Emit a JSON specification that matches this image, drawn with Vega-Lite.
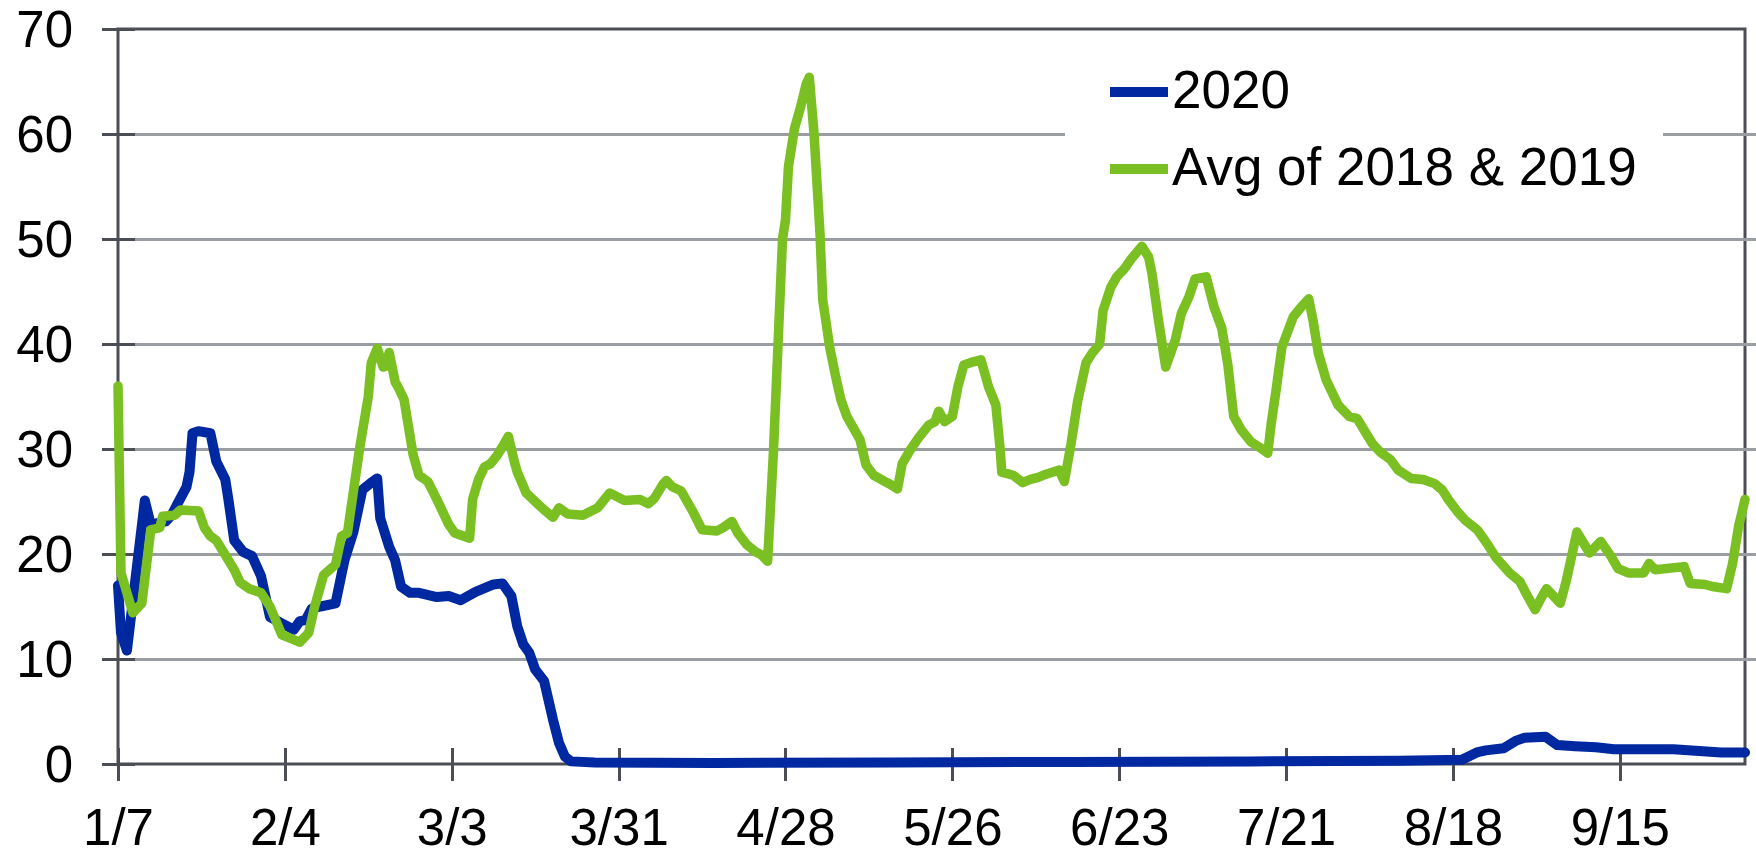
{
  "$schema": "https://vega.github.io/schema/vega-lite/v6.json",
  "width": 1627,
  "height": 735,
  "autosize": {"type": "none"},
  "padding": {"left": 118, "top": 29, "right": 11, "bottom": 86},
  "background": "white",
  "config": {
    "font": "Liberation Sans",
    "view": {"stroke": "#4b4f55", "strokeWidth": 3},
    "axis": {
      "domain": false,
      "labelFont": "Liberation Sans",
      "labelFontSize": 51,
      "labelColor": "black",
      "tickColor": "#4b4f55",
      "tickWidth": 3,
      "tickSize": 33,
      "offset": -16.5,
      "title": null,
      "labelFlush": false,
      "labelOverlap": false,
      "labelBound": false
    },
    "axisX": {"grid": false, "labelPadding": 24},
    "axisY": {"grid": true, "gridColor": "#9a9ea3", "gridWidth": 3, "labelPadding": 29, "labelOffset": 2}
  },
  "data": {
    "values": [
      {"date": "2020-01-07 00:00", "series": "2020", "value": 17},
      {"date": "2020-01-07 12:00", "series": "2020", "value": 12.5},
      {"date": "2020-01-08 12:00", "series": "2020", "value": 10.8},
      {"date": "2020-01-11 12:00", "series": "2020", "value": 25.1},
      {"date": "2020-01-12 12:00", "series": "2020", "value": 22.8},
      {"date": "2020-01-15 00:00", "series": "2020", "value": 23.1},
      {"date": "2020-01-16 00:00", "series": "2020", "value": 23.7},
      {"date": "2020-01-17 00:00", "series": "2020", "value": 24.8},
      {"date": "2020-01-18 12:00", "series": "2020", "value": 26.4},
      {"date": "2020-01-19 00:00", "series": "2020", "value": 27.8},
      {"date": "2020-01-19 12:00", "series": "2020", "value": 31.5},
      {"date": "2020-01-20 12:00", "series": "2020", "value": 31.7},
      {"date": "2020-01-22 12:00", "series": "2020", "value": 31.5},
      {"date": "2020-01-23 12:00", "series": "2020", "value": 28.8},
      {"date": "2020-01-25 00:00", "series": "2020", "value": 27.1},
      {"date": "2020-01-25 12:00", "series": "2020", "value": 25.3},
      {"date": "2020-01-26 12:00", "series": "2020", "value": 21.3},
      {"date": "2020-01-28 00:00", "series": "2020", "value": 20.2},
      {"date": "2020-01-29 12:00", "series": "2020", "value": 19.8},
      {"date": "2020-01-31 00:00", "series": "2020", "value": 17.9},
      {"date": "2020-02-01 12:00", "series": "2020", "value": 14.0},
      {"date": "2020-02-03 12:00", "series": "2020", "value": 13.4},
      {"date": "2020-02-05 12:00", "series": "2020", "value": 12.8},
      {"date": "2020-02-06 12:00", "series": "2020", "value": 13.6},
      {"date": "2020-02-07 12:00", "series": "2020", "value": 13.7},
      {"date": "2020-02-08 12:00", "series": "2020", "value": 14.8},
      {"date": "2020-02-10 00:00", "series": "2020", "value": 15.0},
      {"date": "2020-02-12 12:00", "series": "2020", "value": 15.3},
      {"date": "2020-02-14 00:00", "series": "2020", "value": 19.4},
      {"date": "2020-02-15 12:00", "series": "2020", "value": 22.1},
      {"date": "2020-02-17 00:00", "series": "2020", "value": 26.1},
      {"date": "2020-02-18 12:00", "series": "2020", "value": 26.8},
      {"date": "2020-02-19 12:00", "series": "2020", "value": 27.2},
      {"date": "2020-02-20 00:00", "series": "2020", "value": 23.4},
      {"date": "2020-02-21 12:00", "series": "2020", "value": 20.7},
      {"date": "2020-02-22 12:00", "series": "2020", "value": 19.4},
      {"date": "2020-02-23 12:00", "series": "2020", "value": 16.9},
      {"date": "2020-02-25 00:00", "series": "2020", "value": 16.3},
      {"date": "2020-02-26 12:00", "series": "2020", "value": 16.3},
      {"date": "2020-02-29 12:00", "series": "2020", "value": 15.9},
      {"date": "2020-03-02 12:00", "series": "2020", "value": 16.0},
      {"date": "2020-03-04 12:00", "series": "2020", "value": 15.6},
      {"date": "2020-03-07 00:00", "series": "2020", "value": 16.4},
      {"date": "2020-03-10 00:00", "series": "2020", "value": 17.1},
      {"date": "2020-03-11 12:00", "series": "2020", "value": 17.2},
      {"date": "2020-03-13 00:00", "series": "2020", "value": 16.0},
      {"date": "2020-03-14 00:00", "series": "2020", "value": 13.1},
      {"date": "2020-03-15 00:00", "series": "2020", "value": 11.4},
      {"date": "2020-03-16 00:00", "series": "2020", "value": 10.6},
      {"date": "2020-03-17 00:00", "series": "2020", "value": 9.0},
      {"date": "2020-03-18 12:00", "series": "2020", "value": 7.9},
      {"date": "2020-03-20 00:00", "series": "2020", "value": 4.2},
      {"date": "2020-03-21 00:00", "series": "2020", "value": 2.0},
      {"date": "2020-03-22 00:00", "series": "2020", "value": 0.7},
      {"date": "2020-03-23 00:00", "series": "2020", "value": 0.25},
      {"date": "2020-03-27 00:00", "series": "2020", "value": 0.15},
      {"date": "2020-04-16 00:00", "series": "2020", "value": 0.1},
      {"date": "2020-05-16 00:00", "series": "2020", "value": 0.15},
      {"date": "2020-06-15 00:00", "series": "2020", "value": 0.2},
      {"date": "2020-07-15 00:00", "series": "2020", "value": 0.25},
      {"date": "2020-08-09 00:00", "series": "2020", "value": 0.3},
      {"date": "2020-08-19 12:00", "series": "2020", "value": 0.4},
      {"date": "2020-08-22 00:00", "series": "2020", "value": 1.1},
      {"date": "2020-08-23 12:00", "series": "2020", "value": 1.3},
      {"date": "2020-08-26 12:00", "series": "2020", "value": 1.5},
      {"date": "2020-08-28 12:00", "series": "2020", "value": 2.2},
      {"date": "2020-08-30 00:00", "series": "2020", "value": 2.5},
      {"date": "2020-09-02 12:00", "series": "2020", "value": 2.6},
      {"date": "2020-09-04 12:00", "series": "2020", "value": 1.8},
      {"date": "2020-09-07 12:00", "series": "2020", "value": 1.7},
      {"date": "2020-09-11 00:00", "series": "2020", "value": 1.6},
      {"date": "2020-09-14 00:00", "series": "2020", "value": 1.4},
      {"date": "2020-09-20 00:00", "series": "2020", "value": 1.4},
      {"date": "2020-09-24 00:00", "series": "2020", "value": 1.4},
      {"date": "2020-10-02 00:00", "series": "2020", "value": 1.1},
      {"date": "2020-10-06 00:00", "series": "2020", "value": 1.1},

      {"date": "2020-01-07 00:00", "series": "Avg of 2018 & 2019", "value": 36},
      {"date": "2020-01-07 12:00", "series": "Avg of 2018 & 2019", "value": 18.2},
      {"date": "2020-01-09 12:00", "series": "Avg of 2018 & 2019", "value": 14.4},
      {"date": "2020-01-11 00:00", "series": "Avg of 2018 & 2019", "value": 15.3},
      {"date": "2020-01-12 12:00", "series": "Avg of 2018 & 2019", "value": 22.3},
      {"date": "2020-01-14 00:00", "series": "Avg of 2018 & 2019", "value": 22.5},
      {"date": "2020-01-14 12:00", "series": "Avg of 2018 & 2019", "value": 23.6},
      {"date": "2020-01-16 12:00", "series": "Avg of 2018 & 2019", "value": 23.7},
      {"date": "2020-01-17 12:00", "series": "Avg of 2018 & 2019", "value": 24.2},
      {"date": "2020-01-20 12:00", "series": "Avg of 2018 & 2019", "value": 24.1},
      {"date": "2020-01-21 12:00", "series": "Avg of 2018 & 2019", "value": 22.5},
      {"date": "2020-01-22 12:00", "series": "Avg of 2018 & 2019", "value": 21.7},
      {"date": "2020-01-23 12:00", "series": "Avg of 2018 & 2019", "value": 21.3},
      {"date": "2020-01-25 00:00", "series": "Avg of 2018 & 2019", "value": 19.9},
      {"date": "2020-01-26 12:00", "series": "Avg of 2018 & 2019", "value": 18.5},
      {"date": "2020-01-27 12:00", "series": "Avg of 2018 & 2019", "value": 17.3},
      {"date": "2020-01-29 00:00", "series": "Avg of 2018 & 2019", "value": 16.7},
      {"date": "2020-01-31 00:00", "series": "Avg of 2018 & 2019", "value": 16.3},
      {"date": "2020-02-01 12:00", "series": "Avg of 2018 & 2019", "value": 15.0},
      {"date": "2020-02-03 12:00", "series": "Avg of 2018 & 2019", "value": 12.3},
      {"date": "2020-02-06 12:00", "series": "Avg of 2018 & 2019", "value": 11.6},
      {"date": "2020-02-08 00:00", "series": "Avg of 2018 & 2019", "value": 12.5},
      {"date": "2020-02-09 00:00", "series": "Avg of 2018 & 2019", "value": 15.0},
      {"date": "2020-02-10 12:00", "series": "Avg of 2018 & 2019", "value": 18.0},
      {"date": "2020-02-11 12:00", "series": "Avg of 2018 & 2019", "value": 18.5},
      {"date": "2020-02-12 12:00", "series": "Avg of 2018 & 2019", "value": 19.0},
      {"date": "2020-02-13 12:00", "series": "Avg of 2018 & 2019", "value": 21.7},
      {"date": "2020-02-14 12:00", "series": "Avg of 2018 & 2019", "value": 22.0},
      {"date": "2020-02-16 12:00", "series": "Avg of 2018 & 2019", "value": 29.9},
      {"date": "2020-02-18 00:00", "series": "Avg of 2018 & 2019", "value": 35.0},
      {"date": "2020-02-18 12:00", "series": "Avg of 2018 & 2019", "value": 38.2},
      {"date": "2020-02-19 12:00", "series": "Avg of 2018 & 2019", "value": 39.6},
      {"date": "2020-02-20 12:00", "series": "Avg of 2018 & 2019", "value": 37.8},
      {"date": "2020-02-21 00:00", "series": "Avg of 2018 & 2019", "value": 37.9},
      {"date": "2020-02-21 12:00", "series": "Avg of 2018 & 2019", "value": 39.2},
      {"date": "2020-02-22 12:00", "series": "Avg of 2018 & 2019", "value": 36.4},
      {"date": "2020-02-23 00:00", "series": "Avg of 2018 & 2019", "value": 35.9},
      {"date": "2020-02-24 00:00", "series": "Avg of 2018 & 2019", "value": 34.7},
      {"date": "2020-02-25 12:00", "series": "Avg of 2018 & 2019", "value": 29.5},
      {"date": "2020-02-26 12:00", "series": "Avg of 2018 & 2019", "value": 27.5},
      {"date": "2020-02-28 00:00", "series": "Avg of 2018 & 2019", "value": 26.9},
      {"date": "2020-02-29 12:00", "series": "Avg of 2018 & 2019", "value": 25.2},
      {"date": "2020-03-02 12:00", "series": "Avg of 2018 & 2019", "value": 22.8},
      {"date": "2020-03-03 12:00", "series": "Avg of 2018 & 2019", "value": 22.0},
      {"date": "2020-03-06 00:00", "series": "Avg of 2018 & 2019", "value": 21.5},
      {"date": "2020-03-06 12:00", "series": "Avg of 2018 & 2019", "value": 25.2},
      {"date": "2020-03-07 12:00", "series": "Avg of 2018 & 2019", "value": 27.1},
      {"date": "2020-03-08 12:00", "series": "Avg of 2018 & 2019", "value": 28.3},
      {"date": "2020-03-09 12:00", "series": "Avg of 2018 & 2019", "value": 28.6},
      {"date": "2020-03-10 12:00", "series": "Avg of 2018 & 2019", "value": 29.3},
      {"date": "2020-03-11 12:00", "series": "Avg of 2018 & 2019", "value": 30.2},
      {"date": "2020-03-12 12:00", "series": "Avg of 2018 & 2019", "value": 31.2},
      {"date": "2020-03-13 12:00", "series": "Avg of 2018 & 2019", "value": 28.8},
      {"date": "2020-03-14 00:00", "series": "Avg of 2018 & 2019", "value": 27.8},
      {"date": "2020-03-15 12:00", "series": "Avg of 2018 & 2019", "value": 25.8},
      {"date": "2020-03-17 00:00", "series": "Avg of 2018 & 2019", "value": 25.0},
      {"date": "2020-03-18 12:00", "series": "Avg of 2018 & 2019", "value": 24.2},
      {"date": "2020-03-20 00:00", "series": "Avg of 2018 & 2019", "value": 23.5},
      {"date": "2020-03-21 00:00", "series": "Avg of 2018 & 2019", "value": 24.4},
      {"date": "2020-03-22 12:00", "series": "Avg of 2018 & 2019", "value": 23.8},
      {"date": "2020-03-25 00:00", "series": "Avg of 2018 & 2019", "value": 23.7},
      {"date": "2020-03-27 12:00", "series": "Avg of 2018 & 2019", "value": 24.4},
      {"date": "2020-03-29 12:00", "series": "Avg of 2018 & 2019", "value": 25.8},
      {"date": "2020-04-01 00:00", "series": "Avg of 2018 & 2019", "value": 25.1},
      {"date": "2020-04-03 12:00", "series": "Avg of 2018 & 2019", "value": 25.2},
      {"date": "2020-04-05 00:00", "series": "Avg of 2018 & 2019", "value": 24.8},
      {"date": "2020-04-06 00:00", "series": "Avg of 2018 & 2019", "value": 25.3},
      {"date": "2020-04-07 12:00", "series": "Avg of 2018 & 2019", "value": 26.7},
      {"date": "2020-04-08 00:00", "series": "Avg of 2018 & 2019", "value": 27.0},
      {"date": "2020-04-09 00:00", "series": "Avg of 2018 & 2019", "value": 26.4},
      {"date": "2020-04-10 12:00", "series": "Avg of 2018 & 2019", "value": 26.0},
      {"date": "2020-04-12 12:00", "series": "Avg of 2018 & 2019", "value": 24.0},
      {"date": "2020-04-14 00:00", "series": "Avg of 2018 & 2019", "value": 22.3},
      {"date": "2020-04-16 12:00", "series": "Avg of 2018 & 2019", "value": 22.2},
      {"date": "2020-04-17 12:00", "series": "Avg of 2018 & 2019", "value": 22.5},
      {"date": "2020-04-19 00:00", "series": "Avg of 2018 & 2019", "value": 23.1},
      {"date": "2020-04-20 00:00", "series": "Avg of 2018 & 2019", "value": 22.0},
      {"date": "2020-04-21 12:00", "series": "Avg of 2018 & 2019", "value": 20.9},
      {"date": "2020-04-23 00:00", "series": "Avg of 2018 & 2019", "value": 20.2},
      {"date": "2020-04-24 00:00", "series": "Avg of 2018 & 2019", "value": 19.9},
      {"date": "2020-04-25 00:00", "series": "Avg of 2018 & 2019", "value": 19.3},
      {"date": "2020-04-26 00:00", "series": "Avg of 2018 & 2019", "value": 30.0},
      {"date": "2020-04-27 12:00", "series": "Avg of 2018 & 2019", "value": 50.0},
      {"date": "2020-04-28 00:00", "series": "Avg of 2018 & 2019", "value": 51.8},
      {"date": "2020-04-28 12:00", "series": "Avg of 2018 & 2019", "value": 56.9},
      {"date": "2020-04-29 12:00", "series": "Avg of 2018 & 2019", "value": 60.5},
      {"date": "2020-04-30 12:00", "series": "Avg of 2018 & 2019", "value": 62.5},
      {"date": "2020-05-01 12:00", "series": "Avg of 2018 & 2019", "value": 64.8},
      {"date": "2020-05-02 00:00", "series": "Avg of 2018 & 2019", "value": 65.4},
      {"date": "2020-05-02 19:00", "series": "Avg of 2018 & 2019", "value": 60.0},
      {"date": "2020-05-03 19:00", "series": "Avg of 2018 & 2019", "value": 50.5},
      {"date": "2020-05-04 06:00", "series": "Avg of 2018 & 2019", "value": 44.2},
      {"date": "2020-05-05 10:00", "series": "Avg of 2018 & 2019", "value": 39.7},
      {"date": "2020-05-06 10:00", "series": "Avg of 2018 & 2019", "value": 36.9},
      {"date": "2020-05-07 07:00", "series": "Avg of 2018 & 2019", "value": 34.7},
      {"date": "2020-05-08 07:00", "series": "Avg of 2018 & 2019", "value": 33.1},
      {"date": "2020-05-09 07:00", "series": "Avg of 2018 & 2019", "value": 32.1},
      {"date": "2020-05-10 12:00", "series": "Avg of 2018 & 2019", "value": 30.9},
      {"date": "2020-05-11 12:00", "series": "Avg of 2018 & 2019", "value": 28.5},
      {"date": "2020-05-12 19:00", "series": "Avg of 2018 & 2019", "value": 27.5},
      {"date": "2020-05-14 17:00", "series": "Avg of 2018 & 2019", "value": 26.9},
      {"date": "2020-05-15 17:00", "series": "Avg of 2018 & 2019", "value": 26.6},
      {"date": "2020-05-16 19:00", "series": "Avg of 2018 & 2019", "value": 26.2},
      {"date": "2020-05-17 14:00", "series": "Avg of 2018 & 2019", "value": 28.6},
      {"date": "2020-05-18 22:00", "series": "Avg of 2018 & 2019", "value": 29.9},
      {"date": "2020-05-20 12:00", "series": "Avg of 2018 & 2019", "value": 31.2},
      {"date": "2020-05-22 02:00", "series": "Avg of 2018 & 2019", "value": 32.3},
      {"date": "2020-05-23 02:00", "series": "Avg of 2018 & 2019", "value": 32.6},
      {"date": "2020-05-23 17:00", "series": "Avg of 2018 & 2019", "value": 33.6},
      {"date": "2020-05-24 17:00", "series": "Avg of 2018 & 2019", "value": 32.6},
      {"date": "2020-05-26 00:00", "series": "Avg of 2018 & 2019", "value": 33.1},
      {"date": "2020-05-26 22:00", "series": "Avg of 2018 & 2019", "value": 35.9},
      {"date": "2020-05-27 22:00", "series": "Avg of 2018 & 2019", "value": 38.0},
      {"date": "2020-05-29 12:00", "series": "Avg of 2018 & 2019", "value": 38.3},
      {"date": "2020-05-30 19:00", "series": "Avg of 2018 & 2019", "value": 38.5},
      {"date": "2020-06-01 02:00", "series": "Avg of 2018 & 2019", "value": 35.9},
      {"date": "2020-06-02 07:00", "series": "Avg of 2018 & 2019", "value": 34.2},
      {"date": "2020-06-03 00:00", "series": "Avg of 2018 & 2019", "value": 30.1},
      {"date": "2020-06-03 07:00", "series": "Avg of 2018 & 2019", "value": 27.8},
      {"date": "2020-06-05 05:00", "series": "Avg of 2018 & 2019", "value": 27.5},
      {"date": "2020-06-06 19:00", "series": "Avg of 2018 & 2019", "value": 26.8},
      {"date": "2020-06-08 02:00", "series": "Avg of 2018 & 2019", "value": 27.1},
      {"date": "2020-06-09 10:00", "series": "Avg of 2018 & 2019", "value": 27.3},
      {"date": "2020-06-10 17:00", "series": "Avg of 2018 & 2019", "value": 27.6},
      {"date": "2020-06-12 22:00", "series": "Avg of 2018 & 2019", "value": 28.0},
      {"date": "2020-06-13 19:00", "series": "Avg of 2018 & 2019", "value": 26.9},
      {"date": "2020-06-14 22:00", "series": "Avg of 2018 & 2019", "value": 30.5},
      {"date": "2020-06-16 00:00", "series": "Avg of 2018 & 2019", "value": 34.5},
      {"date": "2020-06-17 10:00", "series": "Avg of 2018 & 2019", "value": 38.2},
      {"date": "2020-06-18 10:00", "series": "Avg of 2018 & 2019", "value": 39.1},
      {"date": "2020-06-19 17:00", "series": "Avg of 2018 & 2019", "value": 40.0},
      {"date": "2020-06-20 07:00", "series": "Avg of 2018 & 2019", "value": 43.2},
      {"date": "2020-06-21 14:00", "series": "Avg of 2018 & 2019", "value": 45.4},
      {"date": "2020-06-22 14:00", "series": "Avg of 2018 & 2019", "value": 46.4},
      {"date": "2020-06-23 22:00", "series": "Avg of 2018 & 2019", "value": 47.2},
      {"date": "2020-06-25 00:00", "series": "Avg of 2018 & 2019", "value": 48.1},
      {"date": "2020-06-26 19:00", "series": "Avg of 2018 & 2019", "value": 49.3},
      {"date": "2020-06-27 22:00", "series": "Avg of 2018 & 2019", "value": 48.3},
      {"date": "2020-06-28 12:00", "series": "Avg of 2018 & 2019", "value": 46.7},
      {"date": "2020-06-29 12:00", "series": "Avg of 2018 & 2019", "value": 42.6},
      {"date": "2020-06-30 19:00", "series": "Avg of 2018 & 2019", "value": 37.8},
      {"date": "2020-07-02 10:00", "series": "Avg of 2018 & 2019", "value": 40.4},
      {"date": "2020-07-03 10:00", "series": "Avg of 2018 & 2019", "value": 42.9},
      {"date": "2020-07-04 17:00", "series": "Avg of 2018 & 2019", "value": 44.5},
      {"date": "2020-07-05 17:00", "series": "Avg of 2018 & 2019", "value": 46.2},
      {"date": "2020-07-07 14:00", "series": "Avg of 2018 & 2019", "value": 46.4},
      {"date": "2020-07-08 22:00", "series": "Avg of 2018 & 2019", "value": 43.5},
      {"date": "2020-07-10 05:00", "series": "Avg of 2018 & 2019", "value": 41.5},
      {"date": "2020-07-11 05:00", "series": "Avg of 2018 & 2019", "value": 38.1},
      {"date": "2020-07-12 05:00", "series": "Avg of 2018 & 2019", "value": 33.1},
      {"date": "2020-07-13 12:00", "series": "Avg of 2018 & 2019", "value": 31.8},
      {"date": "2020-07-15 02:00", "series": "Avg of 2018 & 2019", "value": 30.7},
      {"date": "2020-07-16 17:00", "series": "Avg of 2018 & 2019", "value": 30.1},
      {"date": "2020-07-17 22:00", "series": "Avg of 2018 & 2019", "value": 29.6},
      {"date": "2020-07-18 12:00", "series": "Avg of 2018 & 2019", "value": 32.4},
      {"date": "2020-07-19 07:00", "series": "Avg of 2018 & 2019", "value": 35.5},
      {"date": "2020-07-20 07:00", "series": "Avg of 2018 & 2019", "value": 39.7},
      {"date": "2020-07-22 05:00", "series": "Avg of 2018 & 2019", "value": 42.6},
      {"date": "2020-07-23 12:00", "series": "Avg of 2018 & 2019", "value": 43.5},
      {"date": "2020-07-24 19:00", "series": "Avg of 2018 & 2019", "value": 44.3},
      {"date": "2020-07-25 12:00", "series": "Avg of 2018 & 2019", "value": 42.3},
      {"date": "2020-07-26 10:00", "series": "Avg of 2018 & 2019", "value": 39.1},
      {"date": "2020-07-27 17:00", "series": "Avg of 2018 & 2019", "value": 36.6},
      {"date": "2020-07-29 17:00", "series": "Avg of 2018 & 2019", "value": 34.2},
      {"date": "2020-07-31 14:00", "series": "Avg of 2018 & 2019", "value": 33.1},
      {"date": "2020-08-01 22:00", "series": "Avg of 2018 & 2019", "value": 32.9},
      {"date": "2020-08-03 05:00", "series": "Avg of 2018 & 2019", "value": 31.7},
      {"date": "2020-08-04 12:00", "series": "Avg of 2018 & 2019", "value": 30.5},
      {"date": "2020-08-05 19:00", "series": "Avg of 2018 & 2019", "value": 29.7},
      {"date": "2020-08-07 12:00", "series": "Avg of 2018 & 2019", "value": 29.0},
      {"date": "2020-08-08 19:00", "series": "Avg of 2018 & 2019", "value": 28.0},
      {"date": "2020-08-11 00:00", "series": "Avg of 2018 & 2019", "value": 27.2},
      {"date": "2020-08-13 00:00", "series": "Avg of 2018 & 2019", "value": 27.1},
      {"date": "2020-08-14 22:00", "series": "Avg of 2018 & 2019", "value": 26.7},
      {"date": "2020-08-16 05:00", "series": "Avg of 2018 & 2019", "value": 26.1},
      {"date": "2020-08-17 05:00", "series": "Avg of 2018 & 2019", "value": 25.2},
      {"date": "2020-08-18 19:00", "series": "Avg of 2018 & 2019", "value": 24.0},
      {"date": "2020-08-20 02:00", "series": "Avg of 2018 & 2019", "value": 23.2},
      {"date": "2020-08-22 02:00", "series": "Avg of 2018 & 2019", "value": 22.3},
      {"date": "2020-08-23 17:00", "series": "Avg of 2018 & 2019", "value": 21.0},
      {"date": "2020-08-25 07:00", "series": "Avg of 2018 & 2019", "value": 19.6},
      {"date": "2020-08-27 12:00", "series": "Avg of 2018 & 2019", "value": 18.2},
      {"date": "2020-08-29 05:00", "series": "Avg of 2018 & 2019", "value": 17.4},
      {"date": "2020-08-30 12:00", "series": "Avg of 2018 & 2019", "value": 16.0},
      {"date": "2020-08-31 19:00", "series": "Avg of 2018 & 2019", "value": 14.7},
      {"date": "2020-09-01 19:00", "series": "Avg of 2018 & 2019", "value": 15.8},
      {"date": "2020-09-02 17:00", "series": "Avg of 2018 & 2019", "value": 16.7},
      {"date": "2020-09-03 17:00", "series": "Avg of 2018 & 2019", "value": 16.1},
      {"date": "2020-09-05 00:00", "series": "Avg of 2018 & 2019", "value": 15.3},
      {"date": "2020-09-06 00:00", "series": "Avg of 2018 & 2019", "value": 17.4},
      {"date": "2020-09-07 19:00", "series": "Avg of 2018 & 2019", "value": 22.1},
      {"date": "2020-09-09 22:00", "series": "Avg of 2018 & 2019", "value": 20.1},
      {"date": "2020-09-11 19:00", "series": "Avg of 2018 & 2019", "value": 21.2},
      {"date": "2020-09-13 12:00", "series": "Avg of 2018 & 2019", "value": 19.8},
      {"date": "2020-09-14 17:00", "series": "Avg of 2018 & 2019", "value": 18.6},
      {"date": "2020-09-16 10:00", "series": "Avg of 2018 & 2019", "value": 18.2},
      {"date": "2020-09-19 00:00", "series": "Avg of 2018 & 2019", "value": 18.2},
      {"date": "2020-09-19 22:00", "series": "Avg of 2018 & 2019", "value": 19.1},
      {"date": "2020-09-20 22:00", "series": "Avg of 2018 & 2019", "value": 18.5},
      {"date": "2020-09-25 19:00", "series": "Avg of 2018 & 2019", "value": 18.8},
      {"date": "2020-09-26 19:00", "series": "Avg of 2018 & 2019", "value": 17.2},
      {"date": "2020-09-29 07:00", "series": "Avg of 2018 & 2019", "value": 17.1},
      {"date": "2020-09-30 12:00", "series": "Avg of 2018 & 2019", "value": 16.9},
      {"date": "2020-10-02 22:00", "series": "Avg of 2018 & 2019", "value": 16.7},
      {"date": "2020-10-03 22:00", "series": "Avg of 2018 & 2019", "value": 19.1},
      {"date": "2020-10-04 22:00", "series": "Avg of 2018 & 2019", "value": 22.6},
      {"date": "2020-10-06 00:00", "series": "Avg of 2018 & 2019", "value": 25.2}
    ]
  },
  "encoding": {
    "x": {
      "field": "date",
      "type": "temporal",
      "scale": {"domain": [{"year": 2020, "month": "jan", "date": 7}, {"year": 2020, "month": "oct", "date": 6}]},
      "axis": {
        "format": "%-m/%-d",
        "values": [
          {"year": 2020, "month": "jan", "date": 7},
          {"year": 2020, "month": "feb", "date": 4},
          {"year": 2020, "month": "mar", "date": 3},
          {"year": 2020, "month": "mar", "date": 31},
          {"year": 2020, "month": "apr", "date": 28},
          {"year": 2020, "month": "may", "date": 26},
          {"year": 2020, "month": "jun", "date": 23},
          {"year": 2020, "month": "jul", "date": 21},
          {"year": 2020, "month": "aug", "date": 18},
          {"year": 2020, "month": "sep", "date": 15}
        ]
      }
    },
    "y": {
      "field": "value",
      "type": "quantitative",
      "scale": {"domain": [0, 70], "nice": false},
      "axis": {
        "values": [0, 10, 20, 30, 40, 50, 60, 70],
        "gridOpacity": {"condition": {"test": "datum.value === 0 || datum.value === 70", "value": 0}, "value": 1}
      }
    },
    "color": {
      "field": "series",
      "type": "nominal",
      "scale": {"domain": ["2020", "Avg of 2018 & 2019"], "range": ["#0028A0", "#7AC023"]},
      "legend": {
        "orient": "none",
        "legendX": 947,
        "legendY": 3,
        "title": null,
        "padding": 26,
        "fillColor": "white",
        "symbolType": "stroke",
        "symbolSize": 3364,
        "symbolStrokeWidth": 10,
        "symbolOffset": 14,
        "labelFont": "Liberation Sans",
        "labelFontSize": 53,
        "labelColor": "black",
        "labelOffset": -1,
        "labelLimit": 0,
        "rowPadding": 16
      }
    }
  },
  "layer": [
    {
      "transform": [{"filter": "datum.series === '2020'"}],
      "mark": {"type": "line", "strokeWidth": 10, "strokeJoin": "round", "strokeCap": "round"}
    },
    {
      "transform": [{"filter": "datum.series === 'Avg of 2018 & 2019'"}],
      "mark": {"type": "line", "strokeWidth": 9.5, "strokeJoin": "round", "strokeCap": "round"}
    }
  ]
}
